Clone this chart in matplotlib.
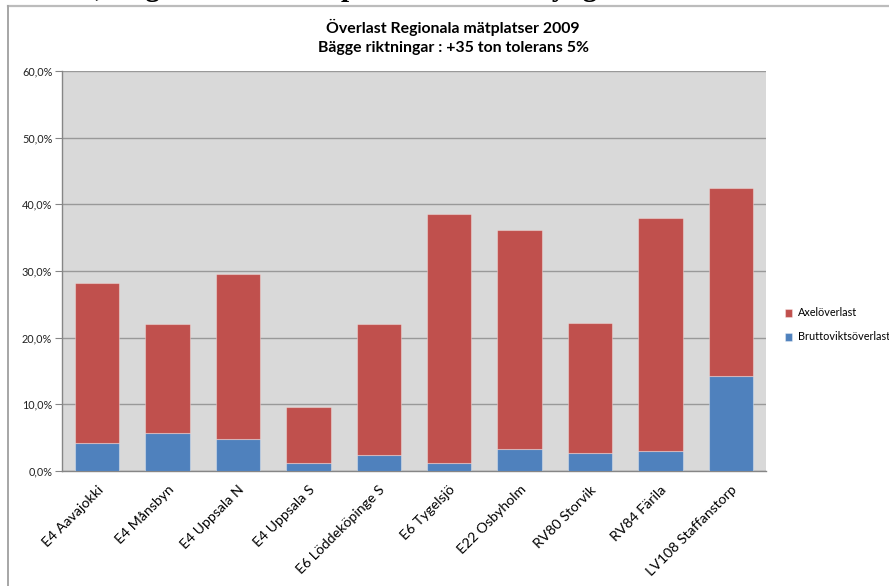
import matplotlib
matplotlib.use("Agg")
import matplotlib.pyplot as plt
from matplotlib.lines import Line2D
from matplotlib.ticker import FuncFormatter, MultipleLocator

# Measuring stations and overload shares (percent of vehicles)
stations = ["E4 Aavajokki", "E4 Månsbyn", "E4 Uppsala N", "E4 Uppsala S",
            "E6 Löddeköpinge S", "E6 Tygelsjö", "E22 Osbyholm", "RV80 Storvik",
            "RV84 Färila", "LV108 Staffanstorp"]
brutto = [4.2, 5.7, 4.8, 1.25, 2.4, 1.15, 3.3, 2.65, 3.0, 14.2]
totals = [28.2, 22.1, 29.6, 9.6, 22.1, 38.6, 36.1, 22.2, 37.9, 42.4]
axel = [t - b for t, b in zip(totals, brutto)]

title_lines = ["Överlast Regionala mätplatser 2009",
               "Bägge riktningar : +35 ton tolerans 5%"]
series_names = ["Axelöverlast", "Bruttoviktsöverlast"]
heading = "Tabell 4, Vägd last och vikt på stationerna i tyngdklass"

BLUE = "#4f81bd"
RED = "#c0504d"
FONT = ["Lato", "DejaVu Sans"]

W, H = 889, 586
fig = plt.figure(figsize=(W / 100, H / 100), dpi=100)
fig.patch.set_facecolor("white")

# chart frame (top and left edges; the rest runs off the page)
fig.add_artist(Line2D([7.5 / W, 1.01], [1 - 5.5 / H, 1 - 5.5 / H],
                      transform=fig.transFigure, color="#bcbcbc", linewidth=1.6))
fig.add_artist(Line2D([7.5 / W, 7.5 / W], [1 - 5.5 / H, -0.01],
                      transform=fig.transFigure, color="#a6a6a6", linewidth=1.4))

# document heading running above the page edge
fig.text(-3 / W, 1 + 4.5 / H, heading, family="Liberation Serif", weight="bold",
         fontsize=21, va="baseline", ha="left", color="black")

ax = fig.add_axes([62 / W, 1 - 471 / H, (766 - 62) / W, (471 - 71) / H])
ax.set_facecolor("#d9d9d9")

x = range(len(stations))
bw = 0.63
ax.bar(x, brutto, width=bw, color=BLUE, edgecolor=(1, 1, 1, 0.35),
       linewidth=0.8, zorder=3, label=series_names[1])
ax.bar(x, axel, width=bw, bottom=brutto, color=RED, edgecolor=(1, 1, 1, 0.35),
       linewidth=0.8, zorder=3, label=series_names[0])

ax.set_ylim(0, 60)
ax.set_xlim(-0.5, len(stations) - 0.5)
ax.yaxis.set_major_locator(MultipleLocator(10))
ax.yaxis.set_major_formatter(FuncFormatter(lambda v, p: f"{v:.1f}%".replace(".", ",")))
ax.grid(axis="y", color="#999999", linewidth=1.0, zorder=1)
ax.set_axisbelow(True)

for side in ("top", "right"):
    ax.spines[side].set_visible(False)
for side in ("left", "bottom"):
    ax.spines[side].set_color("#868686")
    ax.spines[side].set_linewidth(1.0)

ax.tick_params(axis="y", length=5, color="#868686", labelsize=7.8,
               labelcolor="#222222", pad=2)
ax.tick_params(axis="x", length=0, pad=9)
ax.set_xticks(list(x))
ax.set_xticklabels(stations, rotation=45, ha="right", rotation_mode="anchor",
                   fontsize=10.2, family=FONT)
for lab in ax.get_yticklabels():
    lab.set_family(FONT)

fig.text(453 / W, 1 - 27 / H, title_lines[0], ha="center", va="center",
         fontsize=11.4, weight="bold", family=FONT)
fig.text(453 / W, 1 - 48 / H, title_lines[1], ha="center", va="center",
         fontsize=11.4, weight="bold", family=FONT)

handles, labels = ax.get_legend_handles_labels()
leg = fig.legend(handles[::-1], labels[::-1], loc="center left",
                 bbox_to_anchor=(775 / W, 1 - 325 / H), frameon=False,
                 prop={"family": FONT, "size": 7.8}, handlelength=0.7,
                 handleheight=0.7, handletextpad=0.5, labelspacing=1.2)

fig.savefig("out.png", dpi=100)
